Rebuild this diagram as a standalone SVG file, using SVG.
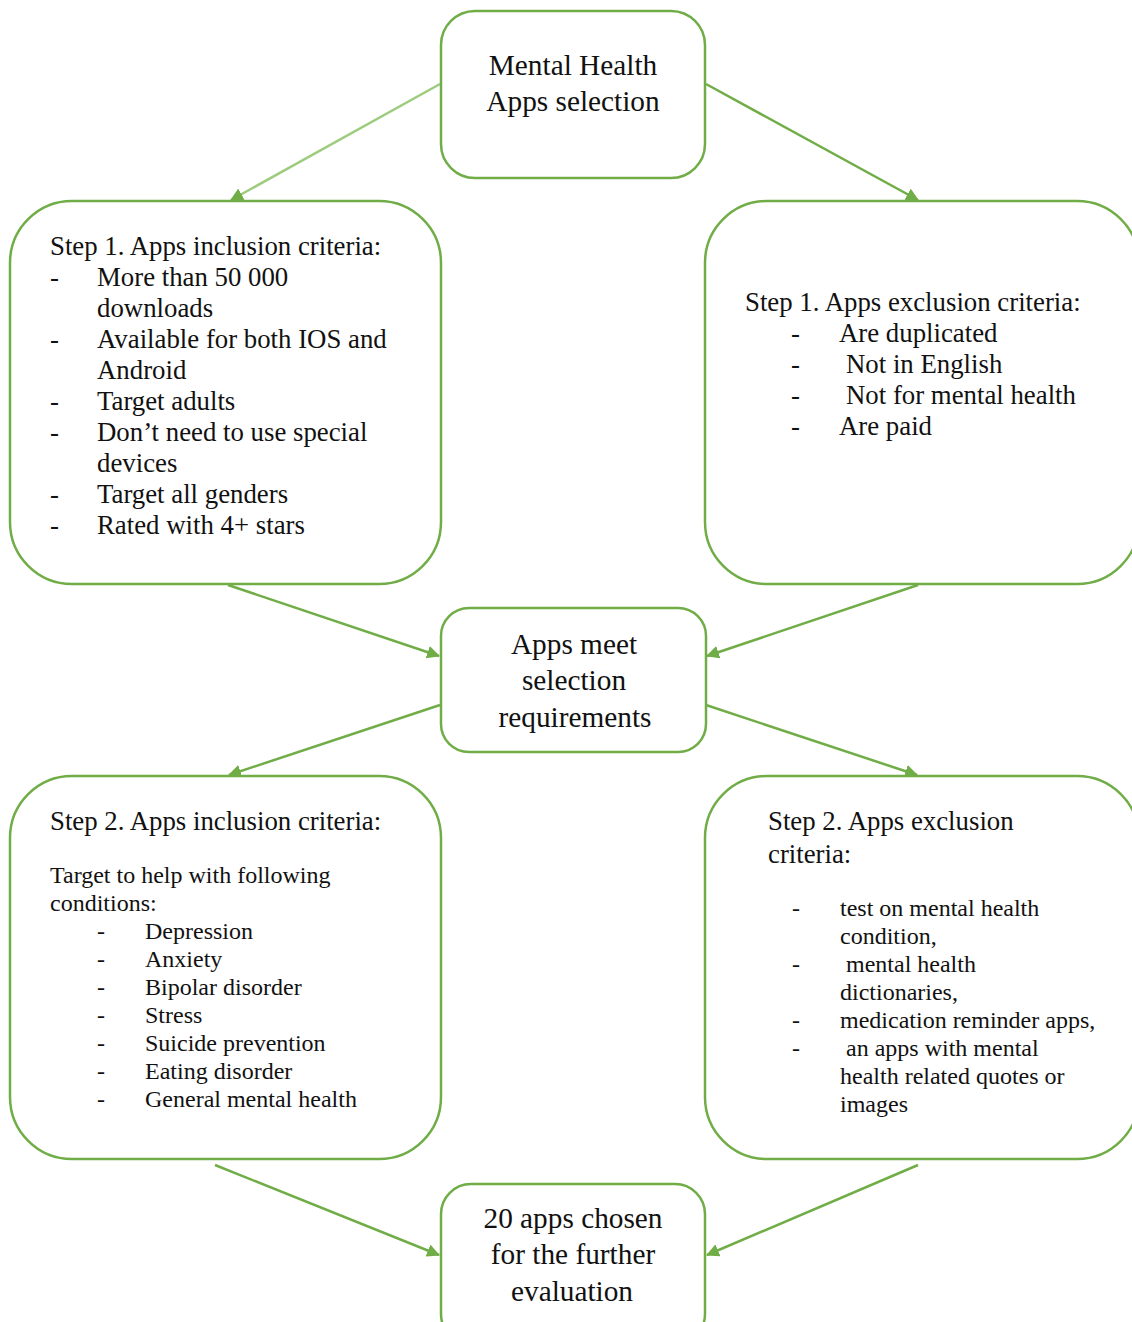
<svg xmlns="http://www.w3.org/2000/svg" width="1132" height="1322" viewBox="0 0 1132 1322">
<defs>
<marker id="ah" viewBox="0 0 12 12" refX="11" refY="6" markerWidth="13" markerHeight="13" markerUnits="userSpaceOnUse" orient="auto">
<path d="M0,0 L12,6 L0,12 z" fill="#70AD47"/>
</marker>
<style>
.box{fill:#fff;stroke:#70AD47;stroke-width:2.5}
.con{stroke:#70AD47;stroke-width:2.5;fill:none;marker-end:url(#ah)}
.t{font-family:"Liberation Serif","Times New Roman",serif;fill:#111}
.big{font-size:29.3px}
.mid{font-size:26.8px}
.sm{font-size:24px}
.c{text-anchor:middle}
</style>
</defs>
<rect width="1132" height="1322" fill="#fff"/>
<g id="connectors">
<line class="con" x1="440" y1="84" x2="231" y2="200" style="stroke:#9DCC7E"/>
<line class="con" x1="706" y1="84" x2="918" y2="200"/>
<line class="con" x1="228" y1="585" x2="439" y2="656"/>
<line class="con" x1="918" y1="585" x2="707" y2="656"/>
<line class="con" x1="440" y1="705" x2="229" y2="775"/>
<line class="con" x1="706" y1="705" x2="917" y2="775"/>
<line class="con" x1="215" y1="1165" x2="439" y2="1255"/>
<line class="con" x1="918" y1="1165" x2="707" y2="1255"/>
</g>
<g id="start">
<rect class="box" x="441" y="11" width="264" height="167" rx="34"/>
<text class="t big c" x="573" y="75">Mental Health</text>
<text class="t big c" x="573" y="111">Apps selection</text>
</g>
<g id="step1-incl">
<rect class="box" x="10" y="201" width="431" height="383" rx="62"/>
<text class="t mid" x="50" y="255">Step 1. Apps inclusion criteria:</text>
<g class="t mid">
<text x="50" y="286">-</text><text x="97" y="286">More than 50 000</text>
<text x="97" y="317">downloads</text>
<text x="50" y="348">-</text><text x="97" y="348">Available for both IOS and</text>
<text x="97" y="379">Android</text>
<text x="50" y="410">-</text><text x="97" y="410">Target adults</text>
<text x="50" y="441">-</text><text x="97" y="441">Don’t need to use special</text>
<text x="97" y="472">devices</text>
<text x="50" y="503">-</text><text x="97" y="503">Target all genders</text>
<text x="50" y="534">-</text><text x="97" y="534">Rated with 4+ stars</text>
</g>
</g>
<g id="step1-excl">
<rect class="box" x="705" y="201" width="434" height="383" rx="62"/>
<text class="t mid" x="745" y="311">Step 1. Apps exclusion criteria:</text>
<g class="t mid">
<text x="791" y="342">-</text><text x="839" y="342">Are duplicated</text>
<text x="791" y="373">-</text><text x="846" y="373">Not in English</text>
<text x="791" y="404">-</text><text x="846" y="404">Not for mental health</text>
<text x="791" y="435">-</text><text x="839" y="435">Are paid</text>
</g>
</g>
<g id="meet">
<rect class="box" x="441" y="608" width="265" height="144" rx="28"/>
<text class="t big c" x="574" y="654">Apps meet</text>
<text class="t big c" x="574" y="690">selection</text>
<text class="t big c" x="575" y="727">requirements</text>
</g>
<g id="step2-incl">
<rect class="box" x="10" y="776" width="431" height="383" rx="62"/>
<text class="t mid" x="50" y="830">Step 2. Apps inclusion criteria:</text>
<g class="t sm">
<text x="50" y="883">Target to help with following</text>
<text x="50" y="911">conditions:</text>
<text x="97" y="939">-</text><text x="145" y="939">Depression</text>
<text x="97" y="967">-</text><text x="145" y="967">Anxiety</text>
<text x="97" y="995">-</text><text x="145" y="995">Bipolar disorder</text>
<text x="97" y="1023">-</text><text x="145" y="1023">Stress</text>
<text x="97" y="1051">-</text><text x="145" y="1051">Suicide prevention</text>
<text x="97" y="1079">-</text><text x="145" y="1079">Eating disorder</text>
<text x="97" y="1107">-</text><text x="145" y="1107">General mental health</text>
</g>
</g>
<g id="step2-excl">
<rect class="box" x="705" y="776" width="434" height="383" rx="62"/>
<text class="t mid" x="768" y="830">Step 2. Apps exclusion</text>
<text class="t mid" x="768" y="863">criteria:</text>
<g class="t sm">
<text x="792" y="916">-</text><text x="840" y="916">test on mental health</text>
<text x="840" y="944">condition,</text>
<text x="792" y="972">-</text><text x="846" y="972">mental health</text>
<text x="840" y="1000">dictionaries,</text>
<text x="792" y="1028">-</text><text x="840" y="1028">medication reminder apps,</text>
<text x="792" y="1056">-</text><text x="846" y="1056">an apps with mental</text>
<text x="840" y="1084">health related quotes or</text>
<text x="840" y="1112">images</text>
</g>
</g>
<g id="final">
<rect class="box" x="441" y="1184" width="264" height="160" rx="30"/>
<text class="t big c" x="573" y="1228">20 apps chosen</text>
<text class="t big c" x="573" y="1264">for the further</text>
<text class="t big c" x="572" y="1301">evaluation</text>
</g>
</svg>
